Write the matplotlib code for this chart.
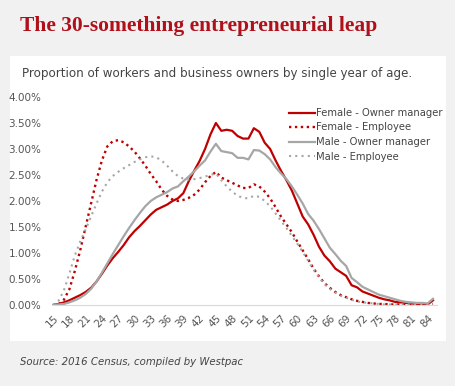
import matplotlib
matplotlib.use('Agg')

import matplotlib.pyplot as plt
from matplotlib.ticker import FuncFormatter
import numpy as np

# ages 15..85
ages = list(range(15, 86))

female_owner = [0.00, 0.02, 0.05, 0.09, 0.14, 0.19, 0.25, 0.33, 0.45, 0.60,
                0.76, 0.90, 1.02, 1.15, 1.30, 1.42, 1.52, 1.63, 1.74, 1.83,
                1.88, 1.93, 2.00, 2.05, 2.15, 2.38, 2.58, 2.77, 3.00, 3.28,
                3.50, 3.35, 3.37, 3.35, 3.25, 3.20, 3.20, 3.40, 3.33, 3.12,
                3.00, 2.78, 2.58, 2.40, 2.20, 1.95, 1.70, 1.55, 1.35, 1.12,
                0.95, 0.84, 0.70, 0.63, 0.56, 0.38, 0.34, 0.26, 0.22, 0.18,
                0.14, 0.11, 0.09, 0.06, 0.05, 0.04, 0.03, 0.02, 0.02, 0.01,
                0.09]
female_employee = [0.00, 0.01, 0.10, 0.30, 0.65, 1.05, 1.50, 1.95, 2.40, 2.78,
                   3.05, 3.15, 3.17, 3.13, 3.05, 2.95, 2.82, 2.68, 2.52, 2.38,
                   2.22, 2.10, 2.03, 2.00, 2.02, 2.06, 2.12, 2.22, 2.36, 2.48,
                   2.56, 2.45, 2.40, 2.35, 2.30, 2.25, 2.25, 2.32, 2.28, 2.18,
                   2.05, 1.88, 1.70, 1.55, 1.40, 1.22, 1.05, 0.88, 0.70, 0.55,
                   0.42, 0.33, 0.25, 0.19, 0.15, 0.11, 0.08, 0.06, 0.04, 0.03,
                   0.02, 0.02, 0.01, 0.01, 0.01, 0.01, 0.01, 0.01, 0.01, 0.01,
                   0.02]
male_owner = [0.00, 0.01, 0.02, 0.05, 0.09, 0.14, 0.21, 0.31, 0.45, 0.62,
              0.80, 0.98, 1.15, 1.32, 1.48, 1.63, 1.77, 1.90, 2.00, 2.07,
              2.12, 2.17, 2.24, 2.28, 2.38, 2.47, 2.57, 2.68, 2.78, 2.95,
              3.10, 2.96, 2.94, 2.92, 2.83, 2.83, 2.80, 2.98, 2.97, 2.90,
              2.80, 2.65, 2.53, 2.42, 2.28, 2.12, 1.95, 1.75, 1.62, 1.46,
              1.28, 1.10, 0.98, 0.85, 0.75, 0.52, 0.44, 0.35, 0.30, 0.25,
              0.20, 0.17, 0.14, 0.11, 0.08, 0.06, 0.05, 0.04, 0.04, 0.03,
              0.12]
male_employee = [0.00, 0.08, 0.28, 0.60, 0.95, 1.22, 1.45, 1.70, 1.95, 2.18,
                 2.36, 2.48, 2.56, 2.63, 2.69, 2.75, 2.80, 2.84, 2.86, 2.84,
                 2.78, 2.68, 2.57, 2.48, 2.43, 2.41, 2.42, 2.44, 2.47, 2.50,
                 2.53, 2.40, 2.28, 2.18, 2.10, 2.06, 2.05, 2.10, 2.08, 2.00,
                 1.90, 1.76, 1.62, 1.48, 1.33, 1.18, 1.02, 0.85, 0.68, 0.53,
                 0.40, 0.31, 0.24, 0.18, 0.14, 0.10, 0.07, 0.05, 0.04, 0.03,
                 0.02, 0.01, 0.01, 0.01, 0.01, 0.01, 0.01, 0.01, 0.01, 0.01,
                 0.01]
tick_ages = list(range(15, 86, 3))

RED = '#c00000'
GREY = '#a6a6a6'
W, H = 456, 386

fig = plt.figure(figsize=(W / 100, H / 100), dpi=100)
fig.patch.set_facecolor('#f1f1f1')

# white card behind the chart
card = plt.Rectangle((10 / W, 1 - 341 / H), 436 / W, 285 / H,
                     transform=fig.transFigure, facecolor='white', edgecolor='none', zorder=-10)
fig.add_artist(card)

fig.text(20 / W, 1 - 26 / H, 'The 30-something entrepreneurial leap',
         family='Liberation Serif', weight='bold', fontsize=15.5, color='#b0101a', va='center')
fig.text(22 / W, 1 - 73 / H, 'Proportion of workers and business owners by single year of age.',
         family='DejaVu Sans', fontsize=8.6, color='#444444', va='center')
fig.text(20 / W, 1 - 362 / H, 'Source: 2016 Census, compiled by Westpac',
         family='DejaVu Sans', style='italic', fontsize=7.3, color='#444444', va='center')

ax = fig.add_axes([52.5 / W, 1 - 305 / H, 384.3 / W, 208 / H])
ax.set_facecolor('none')

ax.plot(ages, female_owner, color=RED, lw=1.6, label='Female - Owner manager')
ax.plot(ages, female_employee, color=RED, lw=1.7, ls=(0, (1, 1.5)), label='Female - Employee')
ax.plot(ages, male_owner, color=GREY, lw=1.6, label='Male - Owner manager')
ax.plot(ages, male_employee, color=GREY, lw=1.5, ls=(0, (1, 2)), label='Male - Employee')

ax.set_xlim(14.9, 85.7)
ax.set_ylim(0, 4)
ax.set_yticks(np.arange(0, 4.01, 0.5))
ax.yaxis.set_major_formatter(FuncFormatter(lambda v, p: f'{v:.2f}%'))
ax.set_xticks(tick_ages)
ax.set_xticklabels([str(a) for a in tick_ages], rotation=45, ha='right',
                   rotation_mode='anchor')

ax.tick_params(axis='both', length=0, labelsize=7.5, colors='#555555')
ax.tick_params(axis='y', pad=8)
ax.tick_params(axis='x', pad=6)
for side in ['top', 'right', 'left']:
    ax.spines[side].set_visible(False)
ax.spines['bottom'].set_color('#d9d9d9')

leg = ax.legend(loc='upper left', bbox_to_anchor=(289 / W, 1 - 108 / H),
                bbox_transform=fig.transFigure, frameon=False, fontsize=7.2,
                handlelength=2.6, handletextpad=0.15, labelspacing=0.45,
                borderpad=0, borderaxespad=0)
for t in leg.get_texts():
    t.set_color('#444444')

fig.savefig('out.png', dpi=100, facecolor=fig.get_facecolor())
